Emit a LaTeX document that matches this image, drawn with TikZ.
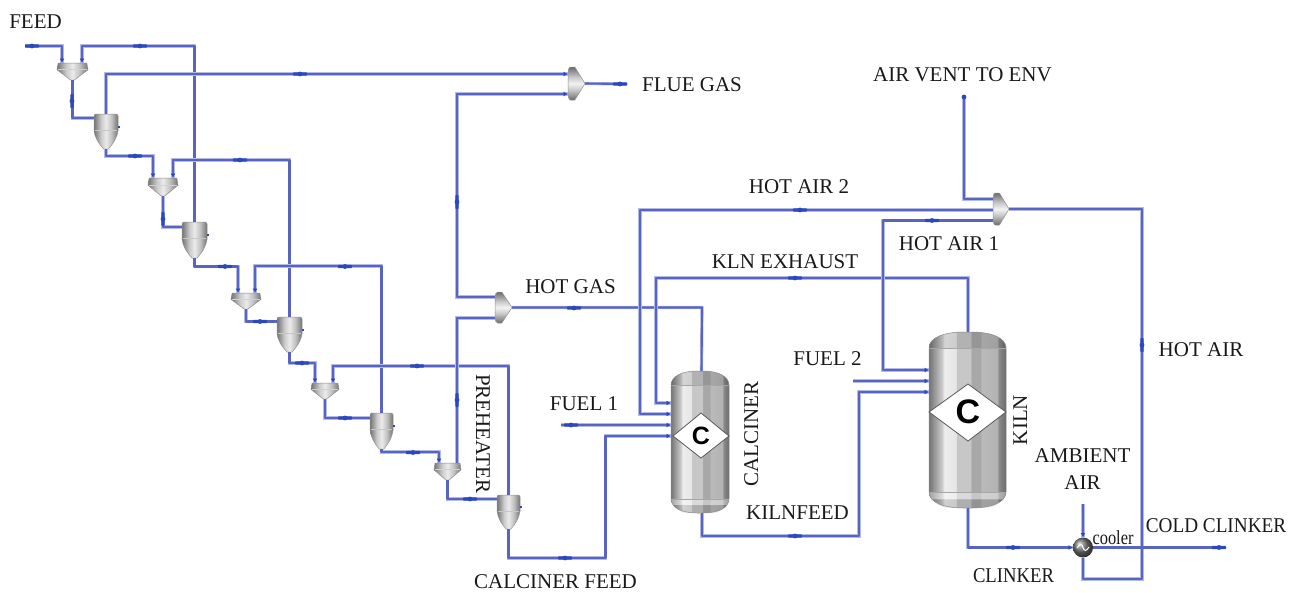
\documentclass[tikz,border=0pt]{standalone}
\usepackage{fontspec}
\setmainfont{Liberation Serif}
\newfontfamily\csans{Liberation Sans}
\usetikzlibrary{arrows.meta}
\definecolor{pipeC}{RGB}{88,100,192}
\definecolor{pipeL}{RGB}{178,186,232}
\definecolor{markC}{RGB}{44,72,190}
\pgfdeclarehorizontalshading{vesselshade}{100bp}{rgb(0bp)=(.45,.45,.45); rgb(25bp)=(.45,.45,.45); rgb(33.5bp)=(.80,.80,.80); rgb(35bp)=(.93,.93,.93); rgb(42.5bp)=(.90,.90,.90); rgb(43bp)=(.78,.78,.78); rgb(52bp)=(.78,.78,.78); rgb(52.5bp)=(.66,.66,.66); rgb(58.5bp)=(.66,.66,.66); rgb(59bp)=(.73,.73,.73); rgb(69.5bp)=(.70,.70,.70); rgb(70bp)=(.55,.55,.55); rgb(75bp)=(.42,.42,.42); rgb(100bp)=(.42,.42,.42)}
\pgfdeclarehorizontalshading{smallshade}{100bp}{rgb(0bp)=(.45,.45,.45); rgb(25bp)=(.45,.45,.45); rgb(40bp)=(.80,.80,.80); rgb(50bp)=(.92,.92,.92); rgb(62bp)=(.75,.75,.75); rgb(75bp)=(.45,.45,.45); rgb(100bp)=(.45,.45,.45)}
\pgfdeclareverticalshading{mixshade}{100bp}{rgb(0bp)=(.42,.42,.42); rgb(25bp)=(.42,.42,.42); rgb(40bp)=(.78,.78,.78); rgb(50bp)=(.95,.95,.95); rgb(60bp)=(.78,.78,.78); rgb(75bp)=(.42,.42,.42); rgb(100bp)=(.42,.42,.42)}
\tikzset{
  unit/.style={inner sep=0pt,outer sep=0pt,draw=none,fill=none},
  pipe/.style={line width=2.1pt,color=pipeC,line join=round,preaction={draw=pipeL,line width=3.2pt,-}},
  into/.style={pipe,-{Latex[length=4.5pt,width=5pt,color=markC]}},
  lbl/.style={inner sep=0pt,outer sep=0pt,text height=14pt,text depth=0pt,font=\fontsize{21}{21}\selectfont,text=black!90},
}
\newcommand{\hopperU}[5]{%
  \node[unit,minimum width=#4pt,minimum height=#5pt] (#1) at ({#2+#4/2},{#3+#5/2}) {};
  \begin{scope}[shift={(#2,#3)},x=#4pt,y=-#5pt]
    \path[shading=smallshade] (.04,0)--(.96,0)--(1,.40)--(.56,1)--(.44,1)--(0,.40)--cycle;
    \draw[white!82!black,line width=.9pt] (.03,.40)--(.97,.40);
    \draw[black!45,line width=.5pt] (.04,0)--(.96,0)--(1,.40)--(.56,1)--(.44,1)--(0,.40)--cycle;
  \end{scope}}
\newcommand{\cycloneU}[5]{%
  \node[unit,minimum width=#4pt,minimum height=#5pt] (#1) at ({#2+#4/2},{#3+#5/2}) {};
  \begin{scope}[shift={(#2,#3)},x=#4pt,y=-#5pt]
    \path[shading=smallshade] (.05,0)--(.95,0)--(1,.05)--(1,.48) .. controls (.95,.7) and (.8,.85) .. (.6,1)--(.4,1) .. controls (.2,.85) and (.05,.7) .. (0,.48)--(0,.05)--cycle;
    \draw[white!78!black,line width=.9pt] (.03,.47)--(.97,.47);
    \draw[black!42,line width=.5pt] (.05,0)--(.95,0)--(1,.05)--(1,.48) .. controls (.95,.7) and (.8,.85) .. (.6,1)--(.4,1) .. controls (.2,.85) and (.05,.7) .. (0,.48)--(0,.05)--cycle;
    \fill[markC] (1,.33) rectangle (1.08,.39);
  \end{scope}}
\newcommand{\mixerU}[5]{%
  \node[unit,minimum width=#4pt,minimum height=#5pt] (#1) at ({#2+#4/2},{#3+#5/2}) {};
  \begin{scope}[shift={(#2,#3)},x=#4pt,y=-#5pt]
    \path[shading=mixshade] (.15,0)--(.4,0)--(1,.5)--(.4,1)--(.15,1) .. controls (.05,1) and (0,.9) .. (0,.8)--(0,.2) .. controls (0,.1) and (.05,0) .. (.15,0)--cycle;
    \draw[black!42,line width=.5pt] (.15,0)--(.4,0)--(1,.5)--(.4,1)--(.15,1) .. controls (.05,1) and (0,.9) .. (0,.8)--(0,.2) .. controls (0,.1) and (.05,0) .. (.15,0)--cycle;
  \end{scope}}
\newcommand{\vesselU}[6]{%
  \node[unit,minimum width=#4pt,minimum height=#5pt] (#1) at ({#2+#4/2},{#3+#5/2}) {};
  \begin{scope}[shift={(#2,#3)},x=#4pt,y=-#5pt]
    \path[shading=vesselshade] (0,#6) .. controls (0,#6*.35) and (.2,0) .. (.45,0)--(.55,0) .. controls (.8,0) and (1,#6*.35) .. (1,#6)--(1,1-#6) .. controls (1,1-#6*.35) and (.8,1) .. (.55,1)--(.45,1) .. controls (.2,1) and (0,1-#6*.35) .. (0,1-#6)--cycle;
    \fill[black,opacity=.10] (0,#6) .. controls (0,#6*.35) and (.2,0) .. (.45,0)--(.55,0) .. controls (.8,0) and (1,#6*.35) .. (1,#6)--cycle;
    \fill[white,opacity=.35] (0,1-#6) -- (1,1-#6) -- (.97,1-#6*.55) -- (.03,1-#6*.55) -- cycle;
    \fill[black,opacity=.12] (.03,1-#6*.55) -- (.97,1-#6*.55) .. controls (.85,1) and (.8,1) .. (.55,1)--(.45,1) .. controls (.2,1) and (.15,1) .. cycle;
    \draw[black!35,line width=.6pt] (0,#6)--(1,#6) (0,1-#6)--(1,1-#6);
    \draw[black!45,line width=.5pt] (0,#6) .. controls (0,#6*.35) and (.2,0) .. (.45,0)--(.55,0) .. controls (.8,0) and (1,#6*.35) .. (1,#6)--(1,1-#6) .. controls (1,1-#6*.35) and (.8,1) .. (.55,1)--(.45,1) .. controls (.2,1) and (0,1-#6*.35) .. (0,1-#6)--cycle;
  \end{scope}}
\newcommand{\hmk}[2]{\fill[markC,rounded corners=.8pt] (#1-7,#2-1.6) rectangle (#1+7,#2+1.6); \fill[markC] (#1,#2) circle (2.4pt);}
\newcommand{\vmk}[2]{\fill[markC,rounded corners=.8pt] (#1-1.6,#2-7) rectangle (#1+1.6,#2+7); \fill[markC] (#1,#2) circle (2.4pt);}
\begin{document}
\begin{tikzpicture}[x=1pt,y=-1pt]
\useasboundingbox (0,0) rectangle (1295,592);
\fill[white] (0,0) rectangle (1295,592);
% units
\hopperU{hopA}{57}{63}{31}{17}
\hopperU{hopB}{148}{178}{30}{18}
\hopperU{hopC}{231}{293}{30}{16}
\hopperU{hopD}{311}{383}{28}{16}
\hopperU{hopE}{434}{463}{27}{17}
\cycloneU{cycA}{94}{114}{24}{35}
\cycloneU{cycB}{182}{222}{25}{36}
\cycloneU{cycC}{277}{317}{25}{35}
\cycloneU{cycD}{370}{413}{23}{36}
\cycloneU{cycE}{497}{495}{23}{34}
\mixerU{mixA}{568}{67}{17}{33}
\mixerU{mixB}{495}{292}{17}{31}
\mixerU{mixC}{993}{193}{16}{32}
\vesselU{calc}{671}{371}{58}{142}{.10}
\vesselU{kiln}{929}{332}{77}{176}{.09}
% diamonds
\draw[black!65,fill=white,line width=.8pt] (673,436)--(701,413)--(729,436)--(701,458)--cycle;
\node[inner sep=0pt,font=\csans\bfseries\fontsize{25}{25}\selectfont] (cC) at (701,436) {C};
\draw[black!65,fill=white,line width=.8pt] (929,412)--(968,384)--(1006,412)--(968,441)--cycle;
\node[inner sep=0pt,font=\csans\bfseries\fontsize{34}{34}\selectfont] (kC) at (968,412) {C};
% cooler
\node[unit,circle,minimum size=20pt,ball color=black!55] (cool) at (1083,547.5) {};
\draw[white,line width=1pt] (1077,548) .. controls (1080,543) and (1082,544) .. (1083,547.5) .. controls (1084,551) and (1086,552) .. (1089,547);
% free ends
\coordinate (feedS) at (25,46);
\coordinate (fuelA) at (561,425);
\coordinate (fuelB) at (853,381);
\coordinate (flue) at (627,84);
\coordinate (vent) at (964,97);
\coordinate (ambient) at (1083,504);
\coordinate (cold) at (1224,547.5);
% preheater pipes
\draw[into] (feedS) -| ([xshift=-10.5pt]hopA.north);
\draw[into] (cycB.north) -- ++(0,-176) -| ([xshift=9.5pt]hopA.north);
\draw[pipe] (hopA.south) -- ++(0,38) -- ([yshift=-4pt]cycA.north west);
\draw[into] (cycA.north) -- ++(0,-40) -- ([yshift=-7pt]mixA.north west);
\draw[into] (cycA.south) -- ++(0,7) -| ([xshift=-10pt]hopB.north);
\draw[into] (cycC.north) -- ++(0,-157) -| ([xshift=10pt]hopB.north);
\draw[pipe] (hopB.south) -- ++(0,31) -- ([yshift=-5pt]cycB.north west);
\draw[into] (cycB.south) -- ++(0,8.5) -| ([xshift=-8pt]hopC.north);
\draw[into] (cycD.north) -- ++(0,-147) -| ([xshift=9pt]hopC.north);
\draw[pipe] (hopC.south) -- ++(0,12.5) -- ([yshift=-4.5pt]cycC.north west);
\draw[into] (cycC.south) -- ++(0,11) -| ([xshift=-10pt]hopD.north);
\draw[into] (cycE.north) -- ++(0,-129) -| ([xshift=8pt]hopD.north);
\draw[pipe] (hopD.south) -- ++(0,19) -- ([yshift=-5pt]cycD.north west);
\draw[into] (cycD.south) -- ++(0,3) -| ([xshift=-8.5pt]hopE.north);
\draw[pipe] (hopE.south) -- ++(0,19) -- ([yshift=-4pt]cycE.north west);
\draw[pipe] ([xshift=9.5pt]hopE.north) |- ([yshift=5pt]mixB.south west);
\draw[into] ([yshift=-5pt]mixB.north west) -- ++(-38,0) |- ([yshift=6pt]mixA.south west);
\draw[pipe] (mixA.east) -- (flue);
% calciner / kiln pipes
\draw[pipe] (mixB.east) -- ++(190,0) -- ([xshift=1.5pt]calc.north);
\draw[into] (cycE.south) -- ++(0,29) -- ++(97,0) |- ([yshift=6pt]calc.west);
\draw[into] (fuelA) -- ([yshift=17pt]calc.west);
\draw[into] ([yshift=-1pt]mixC.west) -- ++(-353,0) |- ([yshift=28pt]calc.west);
\draw[into] ([xshift=.5pt]kiln.north) -- ++(0,-54) -- ++(-312,0) |- ([yshift=39pt]calc.west);
\draw[into] ([yshift=-11.5pt]mixC.west) -| (883,370) -- ([yshift=50pt]kiln.west);
\draw[into] (fuelB) -- ([yshift=39pt]kiln.west);
\draw[into] ([xshift=2pt]calc.south) -- ++(0,23) -- ++(157,0) |- ([yshift=28pt]kiln.west);
\draw[pipe] ([yshift=-6pt]mixC.north west) -| (vent);
\draw[pipe] (mixC.east) -- ++(133,0) |- (1083,579) -- (cool.south);
\draw[into] ([xshift=.5pt]kiln.south) -- ++(0,39.5) -- (cool.west);
\draw[pipe] (cool.east) -- (cold);
\draw[into] (ambient) -- (cool.north);
% stream marks
\hmk{32}{46}\hmk{140}{46}\vmk{72}{101}\hmk{300}{74}
\hmk{135}{156}\hmk{240}{160}\vmk{163}{219}
\hmk{225}{266.5}\hmk{345}{266.5}\hmk{260}{321.5}
\hmk{302}{363}\hmk{417}{366}\hmk{345}{418}\hmk{413}{452.5}\hmk{470}{499}
\vmk{457}{202}\vmk{457}{400}\hmk{620}{84}
\hmk{574}{308}\hmk{565}{558}\hmk{571}{425}
\hmk{800}{210}\hmk{795}{278}\hmk{932}{220.5}\hmk{795}{536}
\vmk{1142}{345}\hmk{1013}{547.5}\hmk{1219}{547.5}\fill[markC] (vent) circle (2.4pt);
% labels
\node[lbl] (tFeed) at (35.5,21) {FEED};
\node[lbl] (tFlue) at (692,84) {FLUE GAS};
\node[lbl] (tVent) at (962.5,74) {AIR VENT TO ENV};
\node[lbl] (tHa2) at (799,186) {HOT AIR 2};
\node[lbl] (tHa1) at (949,243) {HOT AIR 1};
\node[lbl] (tExh) at (785,261) {KLN EXHAUST};
\node[lbl] (tGas) at (570.5,286) {HOT GAS};
\node[lbl] (tF2) at (827.5,358) {FUEL 2};
\node[lbl] (tHa) at (1201,349) {HOT AIR};
\node[lbl] (tF1) at (584,403) {FUEL 1};
\node[lbl] (tKf) at (797.5,512) {KILNFEED};
\node[lbl] (tAm) at (1082.5,455) {AMBIENT};
\node[lbl] (tAr) at (1082.5,482) {AIR};
\node[lbl,font=\fontsize{20}{20}\selectfont,text height=13pt] (tCool) at (1113,538) {\scalebox{.82}[1]{cooler}};
\node[lbl] (tCold) at (1216,525) {\scalebox{.915}[1]{COLD CLINKER}};
\node[lbl] (tCl) at (1013.5,575) {\scalebox{.89}[1]{CLINKER}};
\node[lbl] (tCf) at (555.5,581) {CALCINER FEED};
\node[lbl,rotate=-90] (tPre) at (483,433.5) {PREHEATER};
\node[lbl,rotate=90] (tCalc) at (751,434) {CALCINER};
\node[lbl,rotate=90] (tKiln) at (1020,420) {KILN};
\end{tikzpicture}
\end{document}
